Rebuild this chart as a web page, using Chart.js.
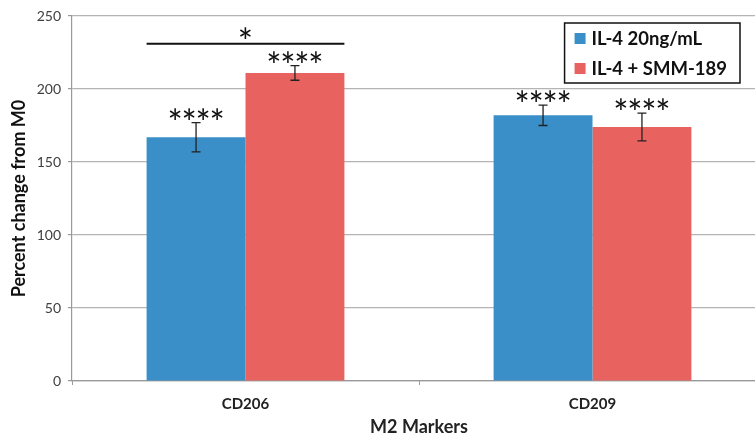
<!DOCTYPE html>
<html>
<head>
<meta charset="utf-8">
<script src="https://cdn.jsdelivr.net/npm/chart.js@4/dist/chart.umd.min.js"></script>
<style>
  html, body { margin: 0; padding: 0; background: #fff; overflow: hidden; }
  #wrap { width: 766px; height: 434px; position: relative; }
</style>
</head>
<body>
<div id="wrap"><canvas id="chart"></canvas></div>
<script>
// data
const categories = ['CD206', 'CD209'];
const seriesNames = ['IL-4 20ng/mL', 'IL-4 + SMM-189'];
const il4Values = [167, 182];
const il4Errors = [10, 7];
const smmValues = [211, 174];
const smmErrors = [5, 9.5];
const il4Stars = ['****', '****'];
const smmStars = ['****', '****'];
const bracketValue = 231;   // CD206 comparison line
const bracketLabel = '*';
const yTicks = [0, 50, 100, 150, 200, 250];

const colors = ['#3b8fc8', '#e8635f'];
const errors = [il4Errors, smmErrors];
const stars = [il4Stars, smmStars];

// draws a row of asterisks centred on (x, cy), one glyph at a time
function drawStars(ctx, s, x, cy) {
    const step = 14;
    const m = ctx.measureText('*');
    const dy = (m.actualBoundingBoxAscent - m.actualBoundingBoxDescent) / 2;
    const x0 = x - step * (s.length - 1) / 2;
    for (let k = 0; k < s.length; k++) {
        ctx.fillText(s[k], x0 + k * step, cy + dy);
    }
}

// error bars, significance stars, bracket
const annotations = {
    id: 'annotations',
    afterDatasetsDraw(chart) {
        const ctx = chart.ctx;
        const y = chart.scales.y;
        ctx.save();
        ctx.font = '36px Lato';
        ctx.textAlign = 'center';
        ctx.textBaseline = 'alphabetic';
        chart.data.datasets.forEach((ds, di) => {
            const meta = chart.getDatasetMeta(di);
            meta.data.forEach((bar, i) => {
                const v = ds.data[i], e = errors[di][i];
                const top = y.getPixelForValue(v + e);
                const bot = y.getPixelForValue(v - e);
                ctx.strokeStyle = '#222';
                ctx.lineWidth = 1.3;
                ctx.beginPath();
                ctx.moveTo(bar.x, top); ctx.lineTo(bar.x, bot);
                ctx.moveTo(bar.x - 4.5, top); ctx.lineTo(bar.x + 4.5, top);
                ctx.moveTo(bar.x - 4.5, bot); ctx.lineTo(bar.x + 4.5, bot);
                ctx.stroke();

                ctx.fillStyle = '#111';
                drawStars(ctx, stars[di][i], bar.x, top - 9);
            });
        });

        // bracket over CD206
        const b0 = chart.getDatasetMeta(0).data[0];
        const b1 = chart.getDatasetMeta(1).data[0];
        const x0 = b0.x - b0.width / 2, x1 = b1.x + b1.width / 2;
        const by = y.getPixelForValue(bracketValue);
        ctx.strokeStyle = '#111';
        ctx.lineWidth = 2;
        ctx.beginPath();
        ctx.moveTo(x0, by); ctx.lineTo(x1, by);
        ctx.stroke();
        drawStars(ctx, bracketLabel, (x0 + x1) / 2, by - 11);
        ctx.restore();
    }
};

// boxed legend inside the plot, top right
const boxLegend = {
    id: 'boxLegend',
    afterDraw(chart) {
        const ctx = chart.ctx;
        const area = chart.chartArea;
        ctx.save();
        ctx.font = 'bold 18.5px Lato';
        const tw = Math.max(...chart.data.datasets.map(d => ctx.measureText(d.label).width));
        const w = 10 + 11 + 6 + tw + 13;
        const h = 60;
        const right = area.right - 26;
        const left = right - w;
        const top = area.top + 7;
        ctx.fillStyle = '#fff';
        ctx.fillRect(left, top, w, h);
        ctx.strokeStyle = '#111';
        ctx.lineWidth = 1.5;
        ctx.strokeRect(left, top, w, h);
        ctx.textBaseline = 'middle';
        ctx.textAlign = 'left';
        chart.data.datasets.forEach((ds, i) => {
            const cy = top + 15.5 + i * 30;
            ctx.fillStyle = ds.backgroundColor;
            ctx.fillRect(left + 10, cy - 5.5, 11, 11);
            ctx.fillStyle = '#111';
            ctx.fillText(ds.label, left + 27, cy + 1);
        });
        ctx.restore();
    }
};

new Chart(document.getElementById('chart'), {
    type: 'bar',
    data: {
        labels: categories,
        datasets: [
            { label: seriesNames[0], data: il4Values, backgroundColor: colors[0] },
            { label: seriesNames[1], data: smmValues, backgroundColor: colors[1] }
        ]
    },
    options: {
        responsive: true,
        maintainAspectRatio: false,
        animation: false,
        categoryPercentage: 0.57,
        barPercentage: 1.0,
        layout: { padding: { top: 16, right: 0, left: 0, bottom: 0 } },
        plugins: {
            legend: { display: false },
            tooltip: { enabled: false }
        },
        scales: {
            y: {
                min: 0,
                max: 250,
                afterBuildTicks: s => { s.ticks = yTicks.map(v => ({ value: v })); },
                afterFit: s => { s.width = 72; },
                grid: { color: '#b4b4b4', lineWidth: 1.2, tickLength: 4, tickColor: '#999' },
                border: { color: '#999', width: 1.2 },
                ticks: { color: '#404040', font: { family: 'Lato', size: 14 }, padding: 7 },
                title: {
                    display: true,
                    text: 'Percent change from M0',
                    color: '#111',
                    font: { family: 'Lato', size: 18, weight: 'bold' },
                    padding: { top: 8, bottom: 0 }
                }
            },
            x: {
                afterFit: s => { s.height = 53; },
                grid: { display: true, drawOnChartArea: false, offset: true, tickLength: 4, tickColor: '#999' },
                border: { color: '#999', width: 1.2 },
                ticks: { color: '#222', font: { family: 'Lato', size: 15, weight: 'bold' }, padding: 10 },
                title: {
                    display: true,
                    text: 'M2 Markers',
                    color: '#222',
                    font: { family: 'Lato', size: 18, weight: 'bold', lineHeight: 0.8 },
                    padding: { top: 0, bottom: 0 }
                }
            }
        }
    },
    plugins: [annotations, boxLegend]
});
</script>
</body>
</html>
